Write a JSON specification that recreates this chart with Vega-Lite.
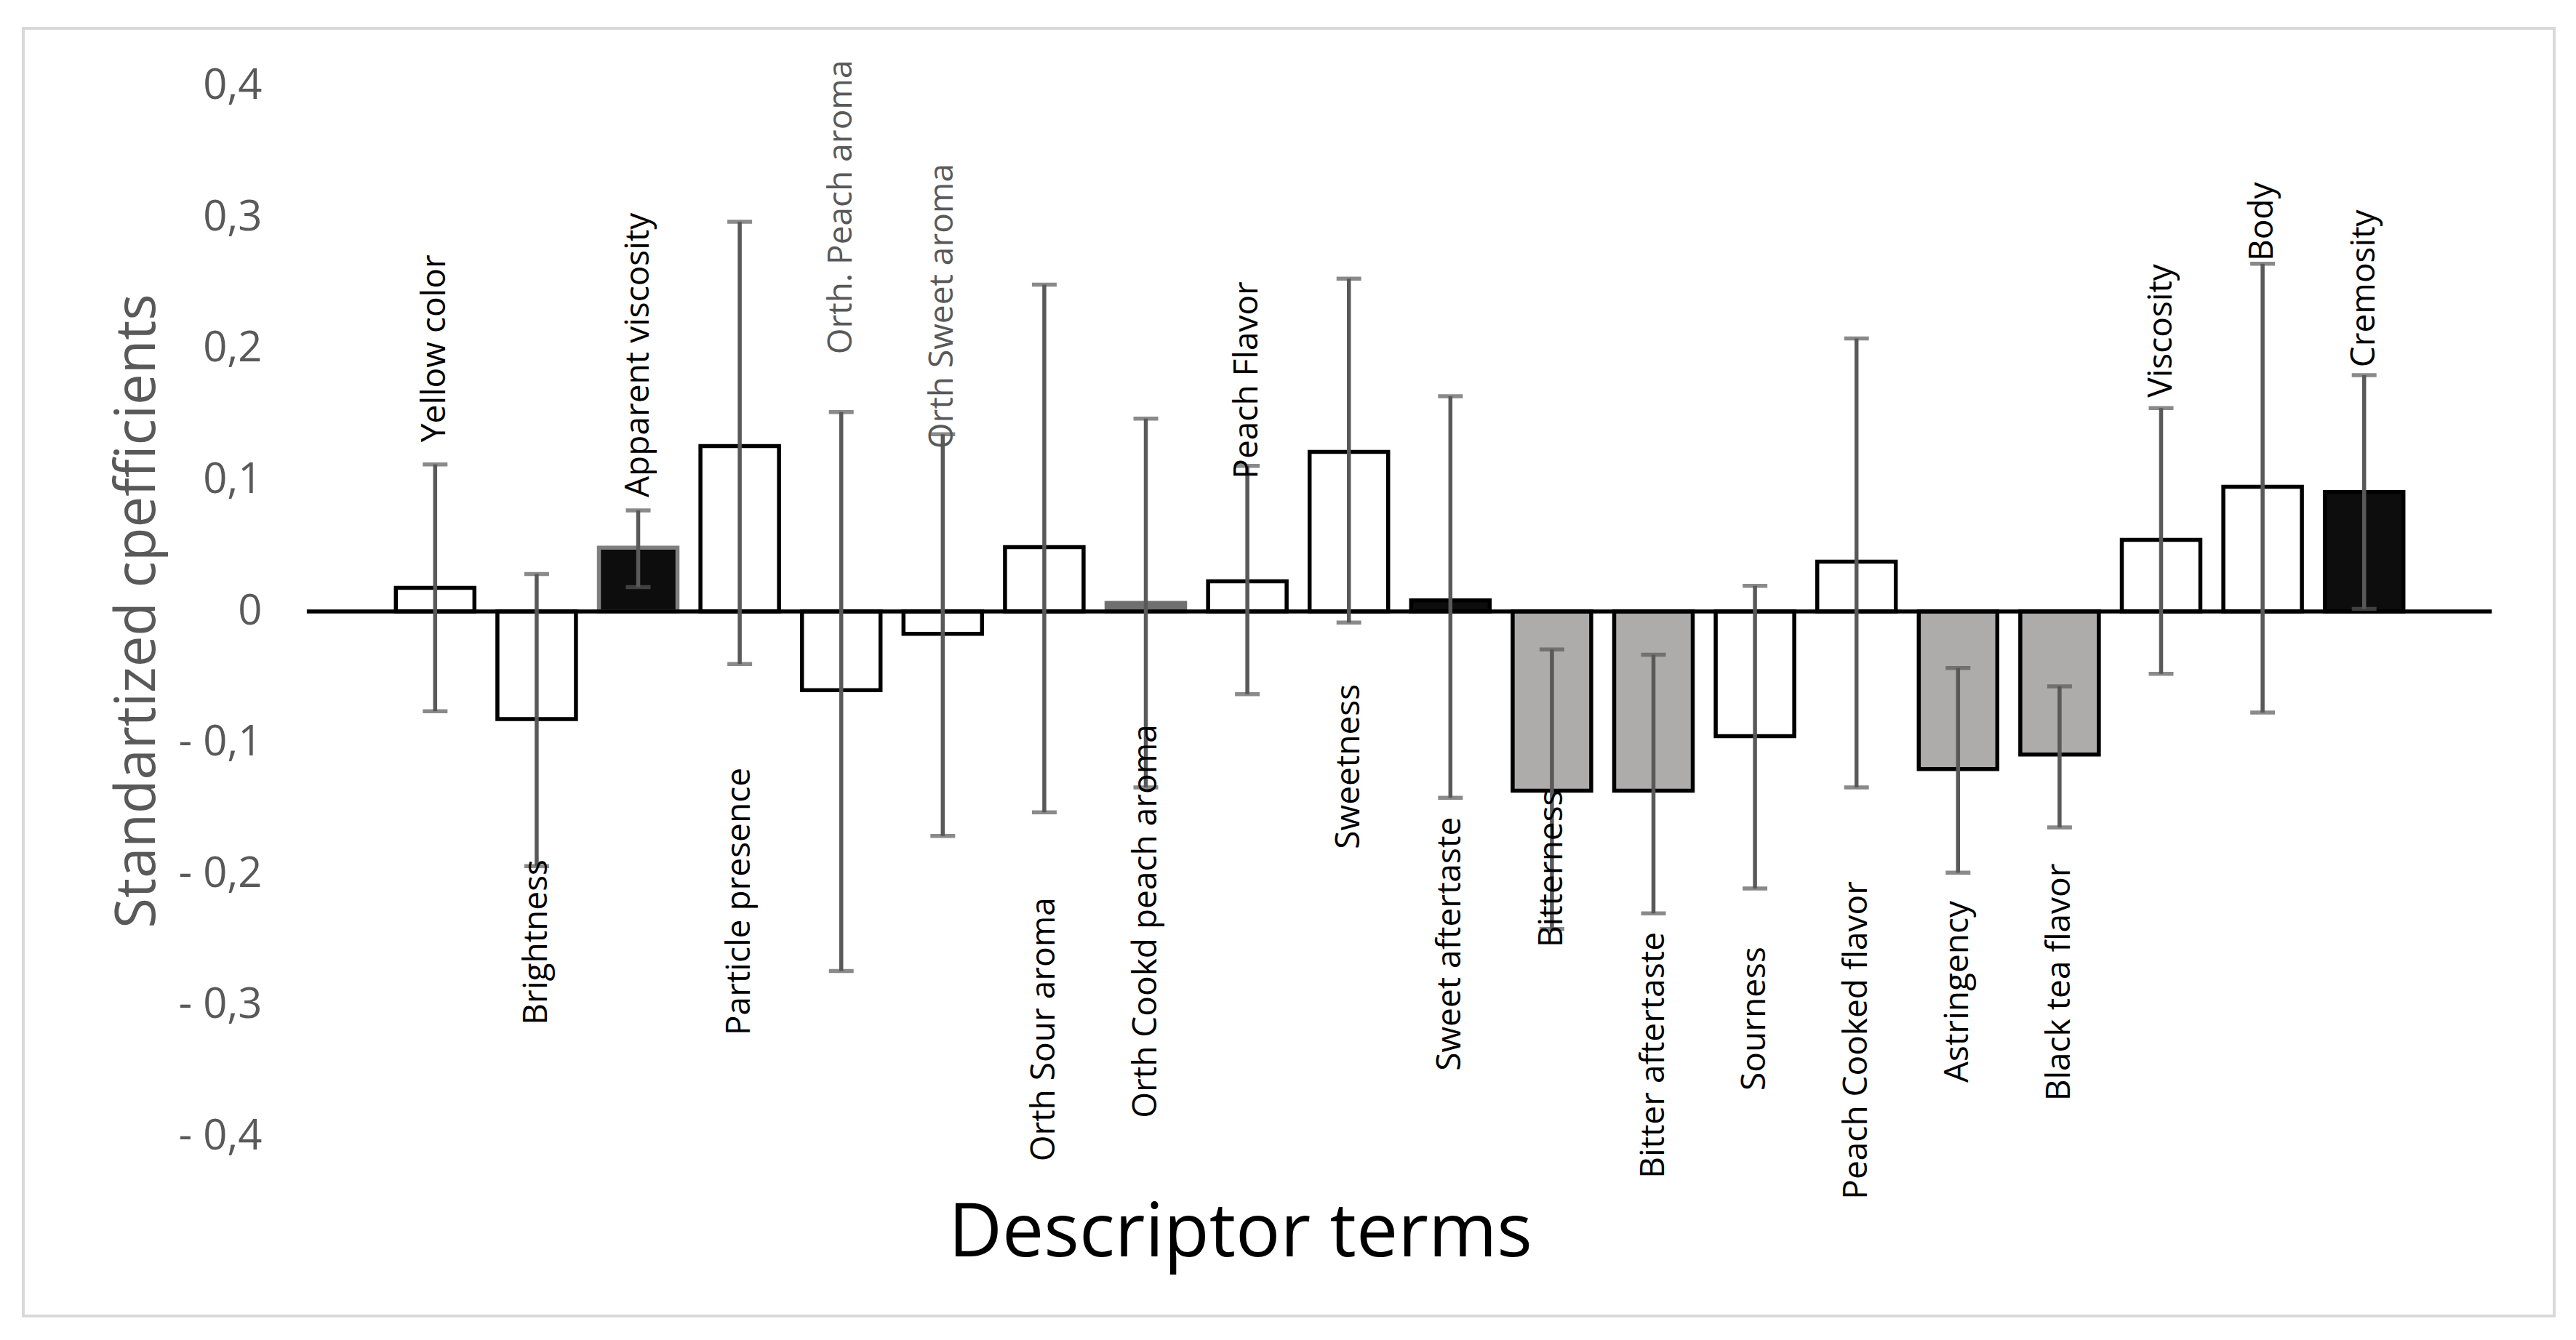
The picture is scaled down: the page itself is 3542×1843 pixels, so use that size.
{
  "$schema": "https://vega.github.io/schema/vega-lite/v6.json",
  "width": 3480,
  "height": 1771,
  "autosize": {"type": "none"},
  "padding": {"left": 32, "top": 39, "right": 30, "bottom": 33},
  "background": "#ffffff",
  "config": {
    "view": {"stroke": "#d9d9d9", "strokeWidth": 4},
    "font": "Open Sans"
  },
  "data": {
    "values": [
      {"i": 1, "term": "Yellow color", "coef": 0.018, "lo": -0.076, "hi": 0.112, "ly": 0.129, "cls": "white"},
      {"i": 2, "term": "Brightness", "coef": -0.082, "lo": -0.194, "hi": 0.0285, "ly": -0.315, "cls": "white"},
      {"i": 3, "term": "Apparent viscosity", "coef": 0.0486, "lo": 0.0185, "hi": 0.077, "ly": 0.087, "cls": "black_grayline"},
      {"i": 4, "term": "Particle presence", "coef": 0.126, "lo": -0.04, "hi": 0.297, "ly": -0.323, "cls": "white"},
      {"i": 5, "term": "Orth. Peach aroma", "coef": -0.06, "lo": -0.274, "hi": 0.152, "ly": 0.196, "cls": "white"},
      {"i": 6, "term": "Orth Sweet aroma", "coef": -0.017, "lo": -0.171, "hi": 0.135, "ly": 0.124, "cls": "white"},
      {"i": 7, "term": "Orth Sour  aroma", "coef": 0.049, "lo": -0.153, "hi": 0.249, "ly": -0.419, "cls": "white"},
      {"i": 8, "term": "Orth Cookd peach aroma", "coef": 0.0065, "lo": -0.134, "hi": 0.147, "ly": -0.386, "cls": "darkgray"},
      {"i": 9, "term": "Peach Flavor", "coef": 0.023, "lo": -0.063, "hi": 0.111, "ly": 0.101, "cls": "white"},
      {"i": 10, "term": "Sweetness", "coef": 0.1216, "lo": -0.0085, "hi": 0.2536, "ly": -0.181, "cls": "white"},
      {"i": 11, "term": "Sweet aftertaste", "coef": 0.0085, "lo": -0.142, "hi": 0.164, "ly": -0.35, "cls": "black"},
      {"i": 12, "term": "Bitterness", "coef": -0.1365, "lo": -0.242, "hi": -0.029, "ly": -0.256, "cls": "gray"},
      {"i": 13, "term": "Bitter aftertaste", "coef": -0.1365, "lo": -0.23, "hi": -0.033, "ly": -0.432, "cls": "gray"},
      {"i": 14, "term": "Sourness", "coef": -0.095, "lo": -0.211, "hi": 0.0195, "ly": -0.365, "cls": "white"},
      {"i": 15, "term": "Peach Cooked flavor", "coef": 0.038, "lo": -0.134, "hi": 0.208, "ly": -0.448, "cls": "white"},
      {"i": 16, "term": "Astringency", "coef": -0.12, "lo": -0.199, "hi": -0.043, "ly": -0.359, "cls": "gray"},
      {"i": 17, "term": "Black tea flavor", "coef": -0.109, "lo": -0.1645, "hi": -0.057, "ly": -0.373, "cls": "gray"},
      {"i": 18, "term": "Viscosity", "coef": 0.0546, "lo": -0.0475, "hi": 0.155, "ly": 0.163, "cls": "white"},
      {"i": 19, "term": "Body", "coef": 0.095, "lo": -0.077, "hi": 0.265, "ly": 0.267, "cls": "white"},
      {"i": 20, "term": "Cremosity", "coef": 0.091, "lo": 0.002, "hi": 0.18, "ly": 0.186, "cls": "black"}
    ]
  },
  "layer": [
    {
      "mark": {"type": "bar", "width": 108, "strokeWidth": 5.5},
      "encoding": {
        "x": {
          "field": "i", "type": "quantitative",
          "scale": {"domain": [-3.021, 21.836], "nice": false, "zero": false},
          "axis": {
            "labels": false, "ticks": false, "domain": false, "grid": false,
            "title": "Descriptor terms",
            "titleFont": "Open Sans", "titleFontSize": 102, "titleFontWeight": "normal",
            "titleColor": "#000000", "titleX": 1673, "titleY": -83,
            "titleAlign": "center", "titleBaseline": "alphabetic"
          }
        },
        "y": {
          "field": "coef", "type": "quantitative",
          "scale": {"domain": [-0.5368, 0.4443], "nice": false, "zero": false},
          "axis": {
            "values": [-0.4, -0.3, -0.2, -0.1, 0, 0.1, 0.2, 0.3, 0.4],
            "labelExpr": "datum.value < -0.0001 ? '- ' + replace(format(-datum.value, '.1f'), '.', ',') : (datum.value < 0.0001 ? '0' : replace(format(datum.value, '.1f'), '.', ','))",
            "grid": false, "domain": false, "ticks": false, "tickSize": 0,
            "labelPadding": 0, "offset": -328,
            "labelFont": "Open Sans", "labelFontSize": 58, "labelColor": "#595959",
            "title": "Standartized cpefficients",
            "titleFont": "Open Sans", "titleFontSize": 76, "titleFontWeight": "normal",
            "titleColor": "#595959", "titleX": -148, "titleY": 801,
            "titleAngle": -90, "titleAlign": "center", "titleBaseline": "alphabetic"
          }
        },
        "y2": {"datum": 0},
        "fill": {
          "field": "cls", "type": "nominal", "legend": null,
          "scale": {
            "domain": ["white", "black", "gray", "darkgray", "black_grayline"],
            "range": ["#ffffff", "#0d0d0d", "#aeabab", "#6f6f6f", "#0d0d0d"]
          }
        },
        "stroke": {
          "field": "cls", "type": "nominal", "legend": null,
          "scale": {
            "domain": ["white", "black", "gray", "darkgray", "black_grayline"],
            "range": ["#000000", "#000000", "#000000", "#6f6f6f", "#7f7f7f"]
          }
        }
      }
    },
    {
      "data": {"values": [{}]},
      "mark": {"type": "rule", "color": "#000000", "strokeWidth": 5.5},
      "encoding": {
        "x": {"datum": -0.264, "type": "quantitative"},
        "x2": {"datum": 21.257},
        "y": {"datum": 0, "type": "quantitative"}
      }
    },
    {
      "mark": {"type": "rule", "color": "#595959", "strokeWidth": 5.5},
      "encoding": {
        "x": {"field": "i", "type": "quantitative"},
        "y": {"field": "lo", "type": "quantitative"},
        "y2": {"field": "hi"}
      }
    },
    {
      "mark": {"type": "tick", "orient": "horizontal", "color": "#595959", "size": 34, "thickness": 5.5},
      "encoding": {
        "x": {"field": "i", "type": "quantitative"},
        "y": {"field": "lo", "type": "quantitative"}
      }
    },
    {
      "mark": {"type": "tick", "orient": "horizontal", "color": "#595959", "size": 34, "thickness": 5.5},
      "encoding": {
        "x": {"field": "i", "type": "quantitative"},
        "y": {"field": "hi", "type": "quantitative"}
      }
    },
    {
      "mark": {"type": "text", "angle": 270, "align": "left", "baseline": "middle", "font": "Open Sans", "fontSize": 46},
      "encoding": {
        "x": {"field": "i", "type": "quantitative"},
        "y": {"field": "ly", "type": "quantitative"},
        "text": {"field": "term", "type": "nominal"},
        "color": {
          "condition": {"test": "datum.i == 5 || datum.i == 6", "value": "#595959"},
          "value": "#000000"
        }
      }
    }
  ]
}
